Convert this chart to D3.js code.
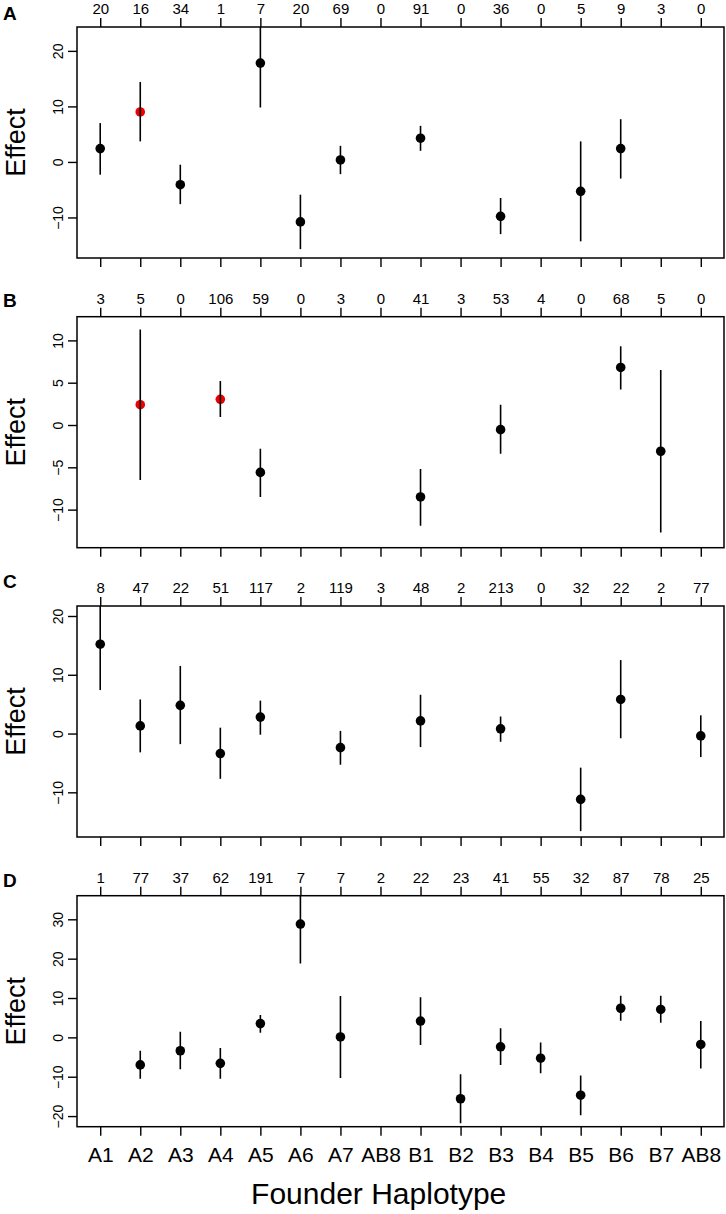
<!DOCTYPE html>
<html>
<head>
<meta charset="utf-8">
<script src="https://cdn.jsdelivr.net/npm/d3@7"></script>
<style>
  html, body { margin: 0; padding: 0; background: #fff; }
  svg { display: block; font-family: "Liberation Sans", Arial, Helvetica, sans-serif; }
</style>
</head>
<body>
<svg id="chart" width="726" height="1214"></svg>
<script>
// ---------- DATA ----------
const categories = ["A1","A2","A3","A4","A5","A6","A7","AB8","B1","B2","B3","B4","B5","B6","B7","AB8"];

const countsA = [20,16,34,1,7,20,69,0,91,0,36,0,5,9,3,0];
const effectA = [2.4, 9.0, -4.1, null, 17.8, -10.8, 0.36, null, 4.27, null, -9.8, null, -5.3, 2.4, null, null];
const lowerA  = [-2.3, 3.7, -7.6, null, 9.8, -15.7, -2.2, null, 2.0, null, -13.0, null, -14.3, -3.0, null, null];
const upperA  = [7.0, 14.4, -0.5, null, 25.5, -5.9, 2.9, null, 6.5, null, -6.5, null, 3.7, 7.7, null, null];
const redA    = [1];
const yTicksA = [-10, 0, 10, 20];
const yDomainA = [-17.3, 24.3];

const countsB = [3,5,0,106,59,0,3,0,41,3,53,4,0,68,5,0];
const effectB = [null, 2.4, null, 3.04, -5.6, null, null, null, -8.5, null, -0.55, null, null, 6.8, -3.1, null];
const lowerB  = [null, -6.5, null, 0.95, -8.5, null, null, null, -11.9, null, -3.4, null, null, 4.2, -12.7, null];
const upperB  = [null, 11.3, null, 5.2, -2.8, null, null, null, -5.2, null, 2.4, null, null, 9.3, 6.5, null];
const redB    = [1, 3];
const yTicksB = [-10, -5, 0, 5, 10];
const yDomainB = [-14.5, 12.8];

const countsC = [8,47,22,51,117,2,119,3,48,2,213,0,32,22,2,77];
const effectC = [15.2, 1.3, 4.8, -3.4, 2.8, null, -2.4, null, 2.15, null, 0.8, null, -11.2, 5.8, null, -0.4];
const lowerC  = [7.4, -3.2, -1.8, -7.7, -0.2, null, -5.3, null, -2.3, null, -1.4, null, -16.6, -0.8, null, -4.0];
const upperC  = [22.5, 5.8, 11.5, 1.0, 5.6, null, 0.45, null, 6.6, null, 2.9, null, -5.8, 12.5, null, 3.1];
const redC    = [];
const yTicksC = [-10, 0, 10, 20];
const yDomainC = [-17.6, 21.7];

const countsD = [1,77,37,62,191,7,7,2,22,23,41,55,32,87,78,25];
const effectD = [null, -7.0, -3.4, -6.6, 3.5, 28.8, 0.1, null, 4.15, -15.6, -2.4, -5.3, -14.7, 7.4, 7.1, -1.8];
const lowerD  = [null, -10.5, -8.1, -10.5, 1.2, 18.8, -10.3, null, -1.95, -21.8, -7.0, -9.1, -19.8, 4.2, 3.7, -7.9];
const upperD  = [null, -3.4, 1.4, -2.7, 5.7, 38.0, 10.5, null, 10.2, -9.4, 2.3, -1.3, -9.7, 10.6, 10.6, 4.15];
const redD    = [];
const yTicksD = [-20, -10, 0, 10, 20, 30];
const yDomainD = [-22.7, 36.0];

const panelLetters = ["A","B","C","D"];
const xTitle = "Founder Haplotype";
const yTitle = "Effect";

// ---------- LAYOUT ----------
const svg = d3.select("#chart");
const left = 77, right = 724;
const boxH = 231;
const panelTops = [27, 316.7, 606, 895.7];
const letterBaselines = [20, 306.7, 588.3, 886.7];
const RED = "#ee0000";
const FONT = "'Liberation Sans', Arial, Helvetica, sans-serif";

const panels = [
  {counts: countsA, effect: effectA, lower: lowerA, upper: upperA, red: redA, ticks: yTicksA, domain: yDomainA},
  {counts: countsB, effect: effectB, lower: lowerB, upper: upperB, red: redB, ticks: yTicksB, domain: yDomainB},
  {counts: countsC, effect: effectC, lower: lowerC, upper: upperC, red: redC, ticks: yTicksC, domain: yDomainC},
  {counts: countsD, effect: effectD, lower: lowerD, upper: upperD, red: redD, ticks: yTicksD, domain: yDomainD}
];

const idx = d3.range(categories.length);
const x = d3.scaleLinear().domain([0.42, categories.length + 0.58]).range([left, right]);

panels.forEach((p, k) => {
  const top = panelTops[k], bottom = top + boxH;
  const y = d3.scaleLinear().domain(p.domain).range([bottom, top]);
  const g = svg.append("g");

  const clipId = "clip" + k;
  svg.append("clipPath").attr("id", clipId)
    .append("rect").attr("x", left).attr("y", top).attr("width", right - left).attr("height", boxH);

  // top axis: counts
  const topAxis = d3.axisTop(x).tickValues(idx.map(i => i + 1))
    .tickFormat(v => String(p.counts[v - 1])).tickSize(9).tickPadding(4).tickSizeOuter(0);
  const ta = g.append("g").attr("transform", `translate(0,${top})`).call(topAxis);
  ta.select(".domain").remove();
  ta.selectAll("line").attr("stroke", "#000").attr("stroke-width", 1.4);
  ta.selectAll("text").attr("font-size", 15).attr("fill", "#000").attr("font-family", FONT);

  // bottom axis
  const botAxis = d3.axisBottom(x).tickValues(idx.map(i => i + 1))
    .tickFormat(v => k === 3 ? categories[v - 1] : "").tickSize(9).tickPadding(11).tickSizeOuter(0);
  const ba = g.append("g").attr("transform", `translate(0,${bottom})`).call(botAxis);
  ba.select(".domain").remove();
  ba.selectAll("line").attr("stroke", "#000").attr("stroke-width", 1.4);
  ba.selectAll("text").attr("font-size", 21).attr("fill", "#000").attr("font-family", FONT);

  // left axis
  const leftAxis = d3.axisLeft(y).tickValues(p.ticks).tickFormat(d3.format("d")).tickSize(9).tickSizeOuter(0);
  const la = g.append("g").attr("transform", `translate(${left},0)`).call(leftAxis);
  la.select(".domain").remove();
  la.selectAll("line").attr("stroke", "#000").attr("stroke-width", 1.4);
  la.selectAll("text")
    .attr("font-size", 14).attr("fill", "#000").attr("font-family", FONT)
    .attr("text-anchor", "middle").attr("x", 0).attr("y", -14).attr("dy", "0")
    .attr("transform", "rotate(-90)");

  // box
  g.append("rect").attr("x", left).attr("y", top).attr("width", right - left).attr("height", boxH)
    .attr("fill", "none").attr("stroke", "#000").attr("stroke-width", 1.5);

  // data
  const data = idx.map(i => ({i, e: p.effect[i], lo: p.lower[i], hi: p.upper[i], red: p.red.includes(i)}))
    .filter(d => d.e !== null);
  const dg = g.append("g").attr("clip-path", `url(#${clipId})`);
  dg.selectAll("circle").data(data).join("circle")
    .attr("cx", d => x(d.i + 1)).attr("cy", d => y(d.e)).attr("r", 4.8)
    .attr("fill", d => d.red ? RED : "#000");
  dg.selectAll("line").data(data).join("line")
    .attr("x1", d => x(d.i + 1)).attr("x2", d => x(d.i + 1))
    .attr("y1", d => y(d.lo)).attr("y2", d => y(d.hi))
    .attr("stroke", "#000").attr("stroke-width", 1.6);

  // y title
  svg.append("text")
    .attr("transform", `translate(25,${(top + bottom) / 2}) rotate(-90)`)
    .attr("text-anchor", "middle").attr("font-size", 27).attr("fill", "#000")
    .text(yTitle);

  // panel letter
  svg.append("text").attr("x", 3).attr("y", letterBaselines[k])
    .attr("font-size", 19).attr("font-weight", "bold").attr("fill", "#000")
    .text(panelLetters[k]);
});

// x title
svg.append("text").attr("x", 378.7).attr("y", 1204.3)
  .attr("text-anchor", "middle").attr("font-size", 30).attr("fill", "#000")
  .text(xTitle);
</script>
</body>
</html>
